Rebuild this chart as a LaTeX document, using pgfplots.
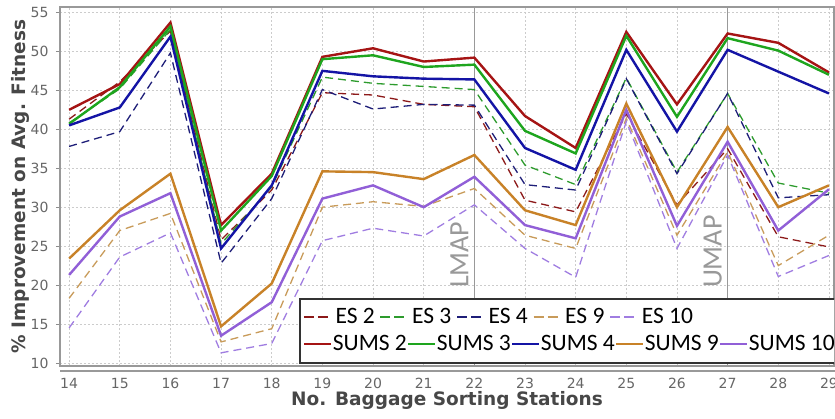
\documentclass[border=0pt]{standalone}
\usepackage{fontspec}
\usepackage{pgfplots}
\usepackage{pgfplotstable}
\pgfplotsset{compat=1.18}
\newfontfamily\tickfont{DejaVu Sans}
\newfontfamily\labfont{DejaVu Sans}
\newfontfamily\legfont{Carlito}

\definecolor{cS2}{RGB}{165,20,20}
\definecolor{cS3}{RGB}{30,165,30}
\definecolor{cS4}{RGB}{20,20,165}
\definecolor{cS9}{RGB}{200,130,40}
\definecolor{cS10}{RGB}{145,95,215}
\definecolor{cE2}{RGB}{140,25,25}
\definecolor{cE3}{RGB}{45,155,45}
\definecolor{cE4}{RGB}{30,30,120}
\definecolor{cE9}{RGB}{200,155,90}
\definecolor{cE10}{RGB}{160,125,225}

\pgfplotstableread{
x  S2   S3   S4   S9   S10  E2   E3   E4   E9   E10
14 42.5 40.7 40.5 23.4 21.3 41.3 40.8 37.8 18.3 14.5
15 45.8 45.4 42.8 29.6 28.8 46.1 45.2 39.7 27.0 23.6
16 53.7 53.2 51.9 34.3 31.8 52.6 52.8 49.8 29.2 26.7
17 27.7 27.0 24.7 14.7 13.5 25.8 25.3 22.8 12.7 11.3
18 34.3 34.0 32.8 20.2 17.8 32.2 32.6 31.1 14.4 12.5
19 49.3 49.0 47.5 34.6 31.1 44.7 46.7 45.1 30.0 25.7
20 50.4 49.5 46.8 34.5 32.8 44.4 45.9 42.6 30.7 27.3
21 48.7 48.0 46.5 33.6 30.0 43.2 45.5 43.2 30.1 26.3
22 49.2 48.3 46.4 36.7 33.9 42.9 45.1 43.1 32.4 30.3
23 41.7 39.8 37.6 29.6 27.7 30.9 35.4 32.9 26.4 24.7
24 37.6 36.9 34.8 27.7 26.0 29.4 32.9 32.2 24.7 21.0
25 52.5 52.0 50.2 43.3 42.5 42.0 46.6 46.5 41.4 41.0
26 43.2 41.6 39.7 30.0 27.6 30.3 34.5 34.3 26.4 24.7
27 52.3 51.7 50.2 40.3 38.4 37.5 44.6 44.6 37.1 36.7
28 51.1 50.1 47.4 30.0 27.0 26.2 33.1 31.2 22.5 21.1
29 47.3 47.0 44.6 32.8 32.3 24.9 31.8 31.6 26.4 23.8
}\datatable

\pgfplotsset{
  es/.style={line width=1.3bp, dash pattern=on 8bp off 5bp, no markers},
  sums/.style={line width=2.4bp, no markers},
  legfont/.style={font=\legfont\fontsize{23.5bp}{25bp}\selectfont},
}

\begin{document}
\begin{tikzpicture}
\begin{axis}[
  scale only axis, width=774bp, height=359bp,
  at={(0,0)}, anchor=south west,
  xmin=13.82, xmax=29.1, ymin=9.61, ymax=55.7,
  xtick={14,...,29}, ytick={10,15,...,55},
  grid=major,
  major grid style={draw=black!20, line width=0.6bp, dash pattern=on 2bp off 2bp},
  axis line style={draw=black!40, line width=1.2bp},
  tick align=outside,
  xtick style={draw=none},
  ytick style={draw=black!45, line width=0.8bp},
  major tick length=4bp,
  extra x ticks={22,27}, extra x tick labels={},
  extra x tick style={grid=major, major grid style={solid, draw=black!40, line width=1.5bp}},
  /pgf/number format/assume math mode=true,
  ticklabel style={font=\tickfont\fontsize{14bp}{16bp}\selectfont, text=black!60},
  xticklabel style={yshift=-5bp},
  yticklabel style={xshift=-4bp},
  xlabel={No. Baggage Sorting Stations},
  ylabel={\% Improvement on Avg. Fitness},
  label style={font=\labfont\bfseries\fontsize{18.5bp}{20bp}\selectfont, text=black!72},
  xlabel style={at={(axis description cs:0.5,-0.0947)}, anchor=center},
  ylabel style={at={(axis description cs:-0.0517,0.5)}, anchor=center},
  legend columns=-1,
  legend style={draw=none, fill=none, legfont, column sep=0bp, inner sep=0bp,
    at={(rel axis cs:0.314,0.1365)}, anchor=west,
    nodes={inner xsep=5bp, inner ysep=0bp}},
  legend image code/.code={\draw[#1, dash pattern=on 10bp off 4bp] (0bp,0bp) -- (26bp,0bp);},
  legend entries={ES 2, ES 3, ES 4, ES 9, ES 10},
]
\addplot[es, cE2] table[x=x, y=E2] {\datatable};
\addplot[es, cE3] table[x=x, y=E3] {\datatable};
\addplot[es, cE4] table[x=x, y=E4] {\datatable};
\addplot[es, cE9] table[x=x, y=E9] {\datatable};
\addplot[es, cE10] table[x=x, y=E10] {\datatable};
\addplot[sums, cS2] table[x=x, y=S2] {\datatable};
\addplot[sums, cS3] table[x=x, y=S3] {\datatable};
\addplot[sums, cS4] table[x=x, y=S4] {\datatable};
\addplot[sums, cS9] table[x=x, y=S9] {\datatable};
\addplot[sums, cS10] table[x=x, y=S10] {\datatable};
\node[rotate=90, anchor=base west, text=black!40, font=\legfont\fontsize{28bp}{30bp}\selectfont, inner sep=0pt] at (axis cs:21.88,19.6) {LMAP};
\node[rotate=90, anchor=base west, text=black!40, font=\legfont\fontsize{28bp}{30bp}\selectfont, inner sep=0pt] at (axis cs:26.88,19.6) {UMAP};
\draw[fill=white, draw=black!80, line width=2bp] (rel axis cs:0.31,0.0084) rectangle (rel axis cs:1.02,0.1866);
\end{axis}
\begin{axis}[
  scale only axis, width=774bp, height=359bp,
  at={(0,0)}, anchor=south west,
  xmin=0, xmax=1, ymin=0, ymax=1, hide axis,
  legend columns=-1,
  legend style={draw=none, fill=none, legfont, column sep=0bp, inner sep=0bp,
    at={(rel axis cs:0.314,0.0613)}, anchor=west,
    nodes={inner xsep=0.3bp, inner ysep=0bp}},
  legend image code/.code={\draw[#1] (0bp,0bp) -- (27bp,0bp);},
]
\addlegendimage{sums, cS2}\addlegendentry{SUMS 2}
\addlegendimage{sums, cS3}\addlegendentry{SUMS 3}
\addlegendimage{sums, cS4}\addlegendentry{SUMS 4}
\addlegendimage{sums, cS9}\addlegendentry{SUMS 9}
\addlegendimage{sums, cS10}\addlegendentry{SUMS 10}
\end{axis}
\draw[draw=black!40, line width=1.2bp] (0bp,-5bp) -- (775bp,-5bp);
\pgfresetboundingbox
\path[use as bounding box] (-60bp,-53bp) rectangle (775bp,366bp);
\end{tikzpicture}
\end{document}
